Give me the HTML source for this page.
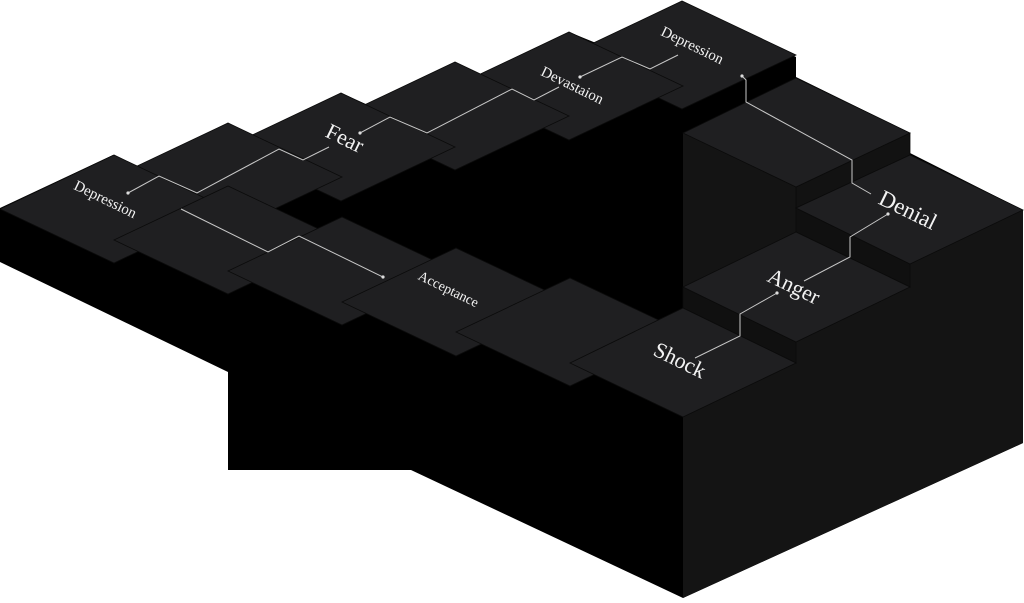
<!DOCTYPE html>
<html><head><meta charset="utf-8"><style>
html,body{margin:0;padding:0;background:#fff;}
svg{display:block}
text{font-family:"Liberation Serif",serif;fill:#f2f2f2;}
</style></head><body>
<svg width="1024" height="603" viewBox="0 0 1024 603" xmlns="http://www.w3.org/2000/svg">
<!-- silhouette -->
<polygon fill="#000" points="0,208 113,155 140,167 228,123 255,136 341,93 368,105 455,62 482,75 569,32 596,43 682,1 796,57 796,77 910,133 910,153 1023,210 1023,443 683,598 411,470 228,470 228,372 0,262"/>
<!-- right structure -->
<polygon fill="#141414" points="683,133 796,187 796,232 683,287"/>
<polygon fill="#141414" points="683,417 796,363 796,342 910,287 910,264 1023,210 1023,443 683,598"/>
<g stroke="#0b0b0b" stroke-width="0.8">
<polygon fill="#121212" points="796,187 910,133 910,155 796,208"/>
<polygon fill="#101010" points="796,208 910,264 910,287 796,232"/>
<polygon fill="#101010" points="683,287 796,342 796,363 683,308"/>
<!-- back row tops, far first -->
<polygon fill="#1f1f21" points="568,55 682,1 796,55 682,109"/>
<polygon fill="#1f1f21" points="455,86 569,32 683,86 569,140"/>
<polygon fill="#1f1f21" points="341,116 455,62 569,116 455,170"/>
<polygon fill="#1f1f21" points="227,147 341,93 455,147 341,201"/>
<polygon fill="#1f1f21" points="114,177 228,123 342,177 228,231"/>
<!-- front row tops -->
<polygon fill="#1f1f21" points="0,209 114,155 228,209 114,263"/>
<polygon fill="#1f1f21" points="114,240 228,186 342,240 228,294"/>
<polygon fill="#1f1f21" points="228,271 342,217 456,271 342,325"/>
<polygon fill="#1f1f21" points="342,302 456,248 570,302 456,356"/>
<polygon fill="#1f1f21" points="456,332 570,278 684,332 570,386"/>
<polygon fill="#1f1f21" points="570,363 683,308 796,363 683,417"/>
<!-- right stairs tops -->
<polygon fill="#1f1f21" points="683,133 796,78 910,133 796,187"/>
<polygon fill="#1f1f21" points="796,208 910,155 1023,210 910,264"/>
<polygon fill="#1f1f21" points="683,287 796,232 910,287 796,342"/>
</g>
<!-- connectors -->
<g fill="none" stroke="#c8c8c8" stroke-width="1">
<polyline points="695,358 740,336 740,314 777,293"/>
<polyline points="804,281 850,257 850,237 888,214"/>
<polyline points="742,76 746,80 746,102 852,160 852,183 871,194"/>
<polyline points="678,55 650,69 622,57 580,77"/>
<polyline points="559,87 534,100 512,89 427,133 390,117 360,133"/>
<polyline points="329,147 303,160 279,149 197,193 159,176 128,193"/>
<polyline points="181,209 268,252 299,236 383,277"/>
</g>
<g fill="#ddd">
<circle cx="777" cy="293" r="1.6"/><circle cx="888" cy="214" r="1.6"/>
<circle cx="742" cy="76" r="1.6"/><circle cx="580" cy="77" r="1.6"/>
<circle cx="360" cy="133" r="1.6"/><circle cx="128" cy="193" r="1.6"/>
<circle cx="383" cy="277" r="1.6"/>
</g>
<!-- labels -->
<g text-anchor="middle" dominant-baseline="central">
<text transform="translate(105,200) rotate(26)" font-size="15">Depression</text>
<text transform="translate(345,138) rotate(26)" font-size="22">Fear</text>
<text transform="translate(572,86) rotate(26)" font-size="15">Devastaion</text>
<text transform="translate(692,46) rotate(26)" font-size="15">Depression</text>
<text transform="translate(908,210) rotate(26)" font-size="23">Denial</text>
<text transform="translate(794,286) rotate(26)" font-size="22">Anger</text>
<text transform="translate(680,360) rotate(26)" font-size="22">Shock</text>
<text transform="translate(448,290) rotate(26)" font-size="14">Acceptance</text>
</g>
</svg>
</body></html>
